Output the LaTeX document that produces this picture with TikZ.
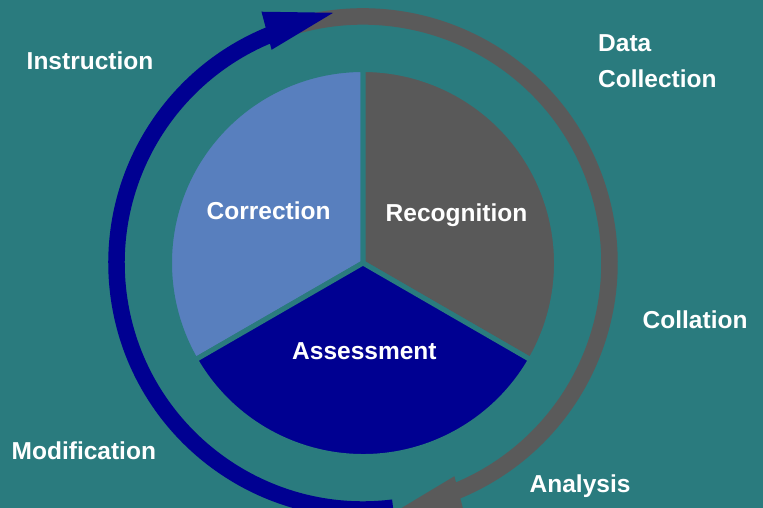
\documentclass[tikz,border=0pt]{standalone}
\usepackage{fontspec}
\setmainfont{Liberation Sans}
\usepackage{tikz}
\definecolor{BgTeal}{RGB}{42,123,126}
\definecolor{CorrBlue}{RGB}{88,127,190}
\definecolor{RecGray}{RGB}{89,89,89}
\definecolor{AssBlue}{RGB}{0,0,145}
\definecolor{CycGray}{RGB}{90,90,90}

\begin{document}
\begin{tikzpicture}[x=1pt,y=1pt,
  lbl/.style={text=white,font=\fontsize{24.5}{36}\selectfont\bfseries,inner sep=0pt,anchor=base west,align=left},
  sector/.style={draw=BgTeal,line width=5pt,line join=round}]
\useasboundingbox(0,0)rectangle(763,508);
\clip(0,0)rectangle(763,508);
\fill[BgTeal](0,0)rectangle(763,508);
\begin{scope}[shift={(363,245)}]
% cycle arrows
\draw[CycGray,line width=16.5pt](112:246.5)arc[start angle=112,end angle=-70,radius=246.5];
\draw[AssBlue,line width=16.5pt](277:246.5)arc[start angle=277,end angle=110,radius=246.5];
\fill[AssBlue](112:271)--(96.8:252)--(113.2:232)--cycle;
\fill[CycGray](-68:271)--(-83.2:252)--(-66.8:232)--cycle;
% pie
\filldraw[CorrBlue,sector](0,0)--(90:193.5)arc[start angle=90,end angle=210,radius=193.5]--cycle;
\filldraw[RecGray,sector](0,0)--(-30:193.5)arc[start angle=-30,end angle=90,radius=193.5]--cycle;
\filldraw[AssBlue,sector](0,0)--(210:193.5)arc[start angle=210,end angle=330,radius=193.5]--cycle;
\end{scope}
% labels
\node[lbl](corr)at(206.5,288){Correction};
\node[lbl](recog)at(385.5,286.5){Recognition};
\node[lbl](assess)at(292,148){Assessment};
\node[lbl](instr)at(26.5,438.7){Instruction};
\node[lbl](datacoll)at(598,420.5){Data\\Collection};
\node[lbl](coll)at(642.5,179){Collation};
\node[lbl](modif)at(11.5,48.7){Modification};
\node[lbl](anal)at(529.5,15.7){Analysis};
\end{tikzpicture}
\end{document}
